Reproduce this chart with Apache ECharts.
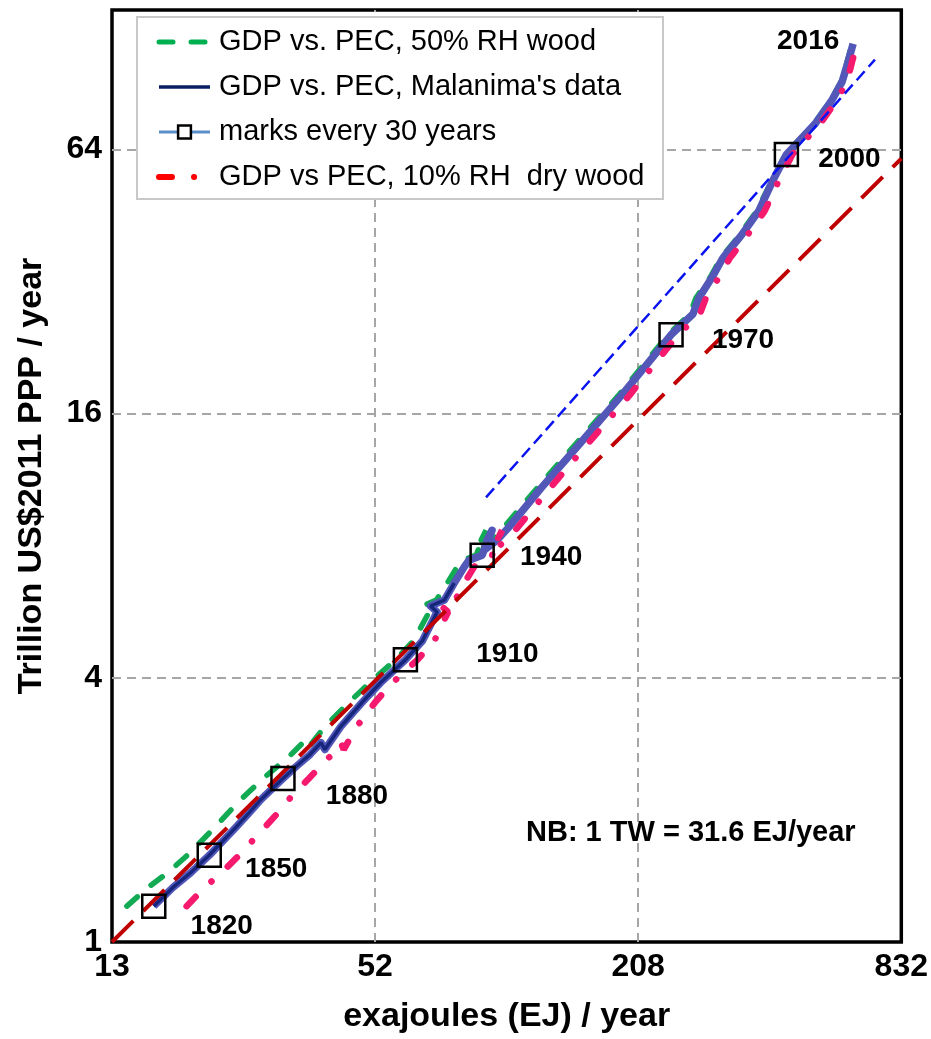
<!DOCTYPE html>
<html><head><meta charset="utf-8">
<script src="https://cdn.jsdelivr.net/npm/echarts@6/dist/echarts.min.js"></script>
<style>html,body{margin:0;padding:0;background:#fff}#c{width:931px;height:1039px}</style>
</head><body><div id="c"></div>
<script>
// ---------- data ----------
const years = [1820,1830,1840,1850,1860,1865,1870,1875,1880,1885,1890,1895,1896,1900,1905,1908,1910,1913,1915,1917,1920,1925,1930,1935,1940,1943,1945,1946,1948,1950,1955,1960,1965,1970,1973,1975,1978,1980,1982,1985,1990,1995,2000,2005,2008,2010,2013,2016];
const gdp = [1.207,1.33,1.44,1.576,1.82,1.964,2.113,2.226,2.358,2.511,2.674,2.847,2.745,3.096,3.528,3.896,4.395,4.854,5.65,5.83,6.015,6.575,7.15,7.416,7.612,8.676,8.234,7.813,8.234,8.813,10.865,13.39,17.58,24.19,26.99,29.35,32.94,36.19,37.14,40.6,46.27,54.13,62.33,73.3,83.1,91.35,101.4,111.4];
const peMalanima = [16.2,17.9,19.7,21.7,24.9,26.7,28.5,30.1,32.0,34.3,36.9,39.1,39.9,43.4,48.7,53.5,61.0,66.7,72.1,69.6,74.9,78.9,83.1,85.3,91.4,96.3,93.8,92.3,98.8,105.2,125.1,150.3,190.3,247.3,277.6,286.4,308.3,324.9,331.7,357.0,392.2,422.0,454.1,528.7,578.1,609.2,628.7,645.5];
const peWood50 = [14.06,15.70,17.46,19.34,22.30,23.92,25.66,27.10,28.82,31.05,33.40,35.58,36.31,39.90,45.49,50.50,57.89,63.63,69.14,66.74,71.83,76.06,80.10,82.66,88.57,93.31,90.89,89.44,96.24,102.5,122.5,147.2,187.3,243.4,273.3,281.9,305.1,321.5,328.3,353.3,388.1,419.8,451.8,526.0,575.1,606.0,625.4,642.2];
const peWood10 = [19.26,21.17,23.17,25.40,28.99,31.08,33.01,34.68,36.68,38.90,41.41,43.42,44.08,47.20,52.13,56.98,64.97,71.04,76.38,73.73,79.35,83.14,87.57,89.89,96.32,101.5,98.85,97.27,103.6,110.3,131.1,156.7,198.4,256.5,288.0,297.1,319.8,337.1,344.1,368.4,404.8,435.5,468.6,542.8,593.5,625.4,642.0,659.2];
const malanimaLastYear = 1925;
const markYears = [1820,1850,1880,1910,1940,1970,2000];
const endYear = 2016;
const fitRedE = [13, 832];
const fitRedGDP = [1, 61];
const fitBlueE = [93.3, 724.1];
const fitBlueGDP = [10.31, 102.5];
const xTicks = [13, 52, 208, 832];
const yTicks = [1, 4, 16, 64];
const xGrid = [52, 208];
const yGrid = [4, 16, 64];
const names = {
  w50: 'GDP vs. PEC, 50% RH wood',
  mal: "GDP vs. PEC, Malanima's data",
  marks: 'marks every 30 years',
  w10: 'GDP vs PEC, 10% RH  dry wood'
};

// ---------- styles (positions) ----------
const yearLabelOffset = {1820:[68,20],1850:[67,14],1880:[74,18],1910:[102,-6],1940:[69,2],1970:[72,5],2000:[63,5],2016:[-45,-2]};
const FONT = '"Liberation Sans", Arial, Helvetica, sans-serif';

// ---------- build ----------
const zip = (xs, ys) => xs.map((x, i) => [x, ys[i]]);
const mainData = zip(peMalanima, gdp);
const malData = mainData.filter((d, i) => years[i] <= malanimaLastYear);
const w50Data = zip(peWood50, gdp);
const w10Data = zip(peWood10, gdp);
const marksData = years.map((y, i) => ({y, i}))
  .filter(o => markYears.includes(o.y) || o.y === endYear)
  .map(o => {
    const item = {value: mainData[o.i], year: o.y, label: {offset: yearLabelOffset[o.y]}};
    if (o.y === endYear) { item.symbolSize = 0; item.itemStyle = {borderWidth: 0}; }
    return item;
  });

const chart = echarts.init(document.getElementById('c'), null, {renderer: 'canvas'});
chart.setOption({
  animation: false,
  backgroundColor: '#fff',
  textStyle: {fontFamily: FONT},
  grid: {left: 112, right: 24, top: 10, bottom: 96, show: true, borderColor: '#000', borderWidth: 3.5, backgroundColor: 'transparent'},
  xAxis: {
    type: 'log', logBase: 4, min: xTicks[0], max: xTicks[xTicks.length - 1],
    axisLine: {show: false}, axisTick: {show: false}, splitLine: {show: false},
    axisLabel: {customValues: xTicks, formatter: v => String(Math.round(v)), fontSize: 32, fontWeight: 'bold', color: '#000', fontFamily: FONT, margin: 9},
    name: 'exajoules (EJ) / year', nameLocation: 'middle', nameGap: 58,
    nameTextStyle: {fontSize: 34, fontWeight: 'bold', color: '#000', fontFamily: FONT}
  },
  yAxis: {
    type: 'log', logBase: 4, min: 1, max: 133,
    axisLine: {show: false}, axisTick: {show: false}, splitLine: {show: false},
    axisLabel: {customValues: yTicks, formatter: v => String(Math.round(v)), fontSize: 32, fontWeight: 'bold', color: '#000', fontFamily: FONT, margin: 10},
    name: 'Trillion US$2011 PPP / year', nameLocation: 'middle', nameGap: 63, nameRotate: 90,
    nameTextStyle: {fontSize: 34, fontWeight: 'bold', color: '#000', fontFamily: FONT}
  },
  legend: {
    orient: 'vertical', left: 156, top: 25, padding: 0, z: 30,
    itemWidth: 51, itemHeight: 16, itemGap: 11,
    textStyle: {fontFamily: FONT, fontSize: 29, color: '#000', lineHeight: 34, padding: [0, 0, 0, 4]},
    itemStyle: {opacity: 0},
    data: [
      {name: names.w50, lineStyle: {width: 5, color: '#00b050'}},
      {name: names.mal, lineStyle: {width: 3.5, color: '#0a1f62'}},
      {name: names.marks, lineStyle: {width: 3, color: '#5b8fc8', opacity: 1, type: 'solid'}, itemStyle: {opacity: 1, color: '#fff', borderColor: '#000', borderWidth: 2.5}},
      {name: names.w10, lineStyle: {width: 6, color: '#ff0000'}}
    ]
  },
  graphic: [
    {type: 'rect', z: 20, shape: {x: 137, y: 17, width: 526, height: 182}, style: {fill: '#fff', stroke: '#c8c8c8', lineWidth: 2}},
    {type: 'text', z: 20, x: 526, y: 833, style: {text: 'NB: 1 TW = 31.6 EJ/year', fontFamily: FONT, fontSize: 29, fontWeight: 'bold', fill: '#000', verticalAlign: 'middle', align: 'left'}}
  ],
  series: [
    {
      name: '_grid', type: 'line', data: [], z: 0, silent: true,
      markLine: {silent: true, symbol: 'none', z: 1, label: {show: false},
        lineStyle: {color: '#a6a6a6', width: 2, type: [9, 6]},
        data: xGrid.map(v => ({xAxis: v})).concat(yGrid.map(v => ({yAxis: v})))}
    },
    {
      name: names.w50, type: 'line', data: w50Data, z: 2, symbol: 'none',
      lineStyle: {color: '#12aa52', width: 5.5, type: [14, 18], cap: 'round'}, itemStyle: {color: '#12aa52'}
    },
    {
      name: 'main', type: 'line', data: mainData, z: 3, symbol: 'none',
      lineStyle: {color: '#5257b8', width: 7.5, join: 'round'}, itemStyle: {color: '#5257b8'}
    },
    {
      name: names.mal, type: 'line', data: malData, z: 4, symbol: 'none',
      lineStyle: {color: '#15267c', width: 3.5}, itemStyle: {color: '#15267c'}
    },
    {
      name: names.w10, type: 'line', data: w10Data, z: 5, symbol: 'none',
      lineStyle: {color: '#f51a6e', width: 6.5, type: [13, 22, 0.1, 22], cap: 'round'}, itemStyle: {color: '#f51a6e'}
    },
    {
      name: 'fitRed', type: 'line', data: zip(fitRedE, fitRedGDP), z: 6, symbol: 'none',
      lineStyle: {color: '#c00000', width: 4, type: [30, 14]}
    },
    {
      name: 'fitBlue', type: 'line', data: zip(fitBlueE, fitBlueGDP), z: 7, symbol: 'none',
      lineStyle: {color: '#0a14f0', width: 2.5, type: [12, 6]}
    },
    {
      name: names.marks, type: 'line', data: marksData, z: 8, symbol: 'rect', symbolSize: 23,
      lineStyle: {opacity: 0, color: '#5b8fc8'},
      itemStyle: {color: 'rgba(0,0,0,0)', borderColor: '#000', borderWidth: 2.5},
      label: {show: true, position: 'inside', formatter: p => String(p.data.year), fontFamily: FONT, fontSize: 28, fontWeight: 'bold', color: '#000'}
    }
  ]
});
</script>
</body></html>
